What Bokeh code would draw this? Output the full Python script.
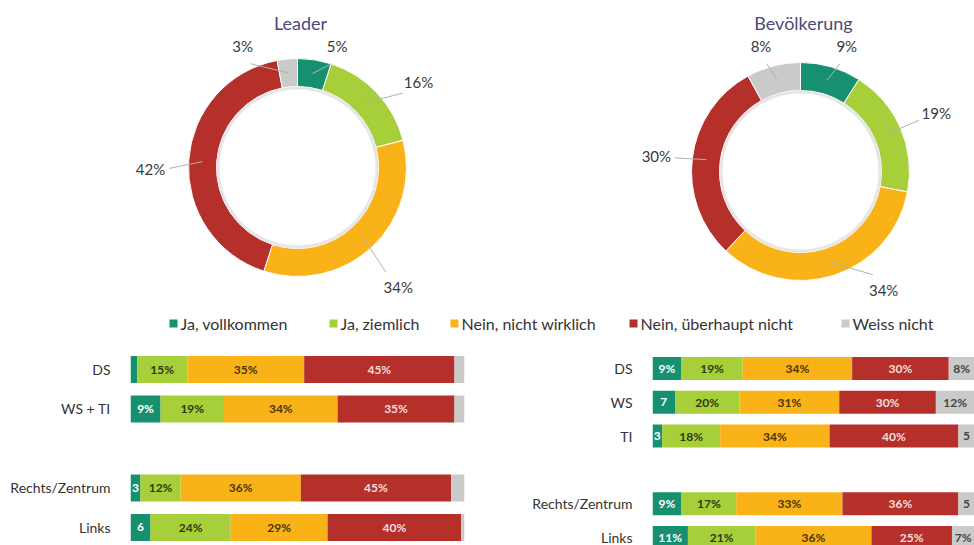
import math
from bokeh.plotting import figure
from bokeh.models import Range1d, FixedTicker, ColumnDataSource
from bokeh.layouts import column, row
from bokeh.embed import file_html
from bokeh.resources import INLINE
from bokeh.core.properties import value

# ---------------- data ----------------
categories = ["Ja, vollkommen", "Ja, ziemlich", "Nein, nicht wirklich",
              "Nein, überhaupt nicht", "Weiss nicht"]

leader_values = [5, 16, 34, 42, 3]
bev_values = [9, 19, 34, 30, 8]

left_rows = ["DS", "WS + TI", "", "Rechts/Zentrum", "Links"]
left_ja_voll = [2, 9, 0, 3, 6]
left_ja_ziem = [15, 19, 0, 12, 24]
left_nein_nicht = [35, 34, 0, 36, 29]
left_nein_ueber = [45, 35, 0, 45, 40]
left_weiss = [3, 3, 0, 4, 1]
left_labels = [["", "15%", "35%", "45%", ""],
               ["9%", "19%", "34%", "35%", ""],
               ["", "", "", "", ""],
               ["3", "12%", "36%", "45%", ""],
               ["6", "24%", "29%", "40%", ""]]

right_rows = ["DS", "WS", "TI", "", "Rechts/Zentrum", "Links"]
right_ja_voll = [9, 7, 3, 0, 9, 11]
right_ja_ziem = [19, 20, 18, 0, 17, 21]
right_nein_nicht = [34, 31, 34, 0, 33, 36]
right_nein_ueber = [30, 30, 40, 0, 36, 25]
right_weiss = [8, 12, 5, 0, 5, 7]
right_labels = [["9%", "19%", "34%", "30%", "8%"],
                ["7", "20%", "31%", "30%", "12%"],
                ["3", "18%", "34%", "40%", "5"],
                ["", "", "", "", ""],
                ["9%", "17%", "33%", "36%", "5"],
                ["11%", "21%", "36%", "25%", "7%"]]

# ---------------- style ----------------
colors = ["#17906f", "#a6cf3a", "#f9b218", "#b5302a", "#cacaca"]
text_colors = ["#ffffff", "#2f3a10", "#4a3608", "#f7dede", "#444444"]
FONT = "Lato"
R_OUT, R_IN = 109, 81
TOP_H = 340

# ---------------- top: donuts + legend ----------------
top = figure(width=974, height=TOP_H, x_range=Range1d(0, 974), y_range=Range1d(0, TOP_H),
             output_backend="svg", toolbar_location=None, min_border=0,
             x_axis_location=None, y_axis_location=None)
top.grid.visible = False
top.outline_line_color = None


def donut(cx, cy, vals, title, nudges, radii):
    total = float(sum(vals))
    cum = 0
    s, e, mids = [], [], []
    for v in vals:
        a0 = math.pi / 2 - 2 * math.pi * cum / total
        cum += v
        a1 = math.pi / 2 - 2 * math.pi * cum / total
        s.append(a0)
        e.append(a1)
        mids.append((a0 + a1) / 2)
    src = ColumnDataSource(dict(x=[cx] * len(vals), y=[cy] * len(vals), s=s, e=e, c=colors))
    top.annular_wedge(x="x", y="y", inner_radius=R_IN, outer_radius=R_OUT,
                      start_angle="s", end_angle="e", direction="clock",
                      fill_color="c", line_color="white", line_width=1, source=src)
    # subtle inner shadow
    top.annulus(x=cx, y=cy, inner_radius=R_IN - 3, outer_radius=R_IN,
                fill_color="#e6e6e6", line_color=None)
    lx, ly, tx, ty, txt = [], [], [], [], []
    for v, m, nd, r in zip(vals, mids, nudges, radii):
        la = m + math.radians(nd)
        x0 = cx + 95 * math.cos(m)
        y0 = cy + 95 * math.sin(m)
        x1 = cx + (r - 19) * math.cos(la)
        y1 = cy + (r - 19) * math.sin(la)
        lx.append([x0, x1])
        ly.append([y0, y1])
        tx.append(cx + r * math.cos(la))
        ty.append(cy + r * math.sin(la))
        txt.append(f"{v}%")
    top.multi_line(xs=lx, ys=ly, line_color="#b0b0b0", line_width=1)
    top.text(x=tx, y=ty, text=txt, text_align="center", text_baseline="middle",
             text_font=value(FONT), text_font_size="15px", text_color="#3a3a3a")
    top.text(x=[cx + 3], y=[TOP_H - 22], text=[title], text_align="center",
             text_baseline="middle", text_font=value(FONT), text_font_size="18px",
             text_color="#4a4a7c")


donut(297, TOP_H - 167, leader_values, "Leader", [-9, -8, -3, 4, 19], [128, 148, 156, 147, 133])
donut(800, TOP_H - 171, bev_values, "Bevölkerung", [-4, 0, 17, 1, 3], [134, 148, 145, 145, 132])

# legend
legend_text_x = [180, 340, 461, 640, 852]
legend_y = TOP_H - 323
top.scatter(x=[x - 7 for x in legend_text_x], y=[legend_y] * 5, marker="square", size=8,
            fill_color=colors, line_color=None)
top.text(x=legend_text_x, y=[legend_y] * 5, text=categories, text_align="left",
         text_baseline="middle", text_font=value(FONT), text_font_size="16px",
         text_color="#333333")


# ---------------- bottom: stacked bars ----------------
BOT_H = 545 - TOP_H


def bars(rows, series, labels, width, bl, br, x_end, y_bottom, y_top, bar_h):
    p = figure(width=width, height=BOT_H, x_range=Range1d(0, x_end),
               y_range=Range1d(y_bottom, y_top), output_backend="svg",
               toolbar_location=None, min_border_left=bl, min_border_right=br,
               min_border_top=0, min_border_bottom=0, x_axis_location=None)
    p.grid.visible = False
    p.outline_line_color = None
    data = dict(y=list(range(len(rows))))
    for cat, vals in zip(categories, series):
        data[cat] = vals
    p.hbar_stack(categories, y="y", height=bar_h, color=colors, line_color=None,
                 source=ColumnDataSource(data))
    tx, ty, tt, tc = [], [], [], []
    for i in range(len(rows)):
        cum = 0
        for j, vals in enumerate(series):
            v = vals[i]
            if labels[i][j]:
                tx.append(cum + v / 2)
                ty.append(i)
                tt.append(labels[i][j])
                tc.append(text_colors[j])
            cum += v
    p.text(x=tx, y=ty, text=tt, text_color=tc, text_align="center",
           text_baseline="middle", text_font=value(FONT), text_font_size="12px",
           text_font_style="bold")
    ax = p.yaxis[0]
    ax.ticker = FixedTicker(ticks=[i for i, r in enumerate(rows) if r])
    ax.major_label_overrides = {i: r for i, r in enumerate(rows) if r}
    ax.axis_line_color = None
    ax.major_tick_line_color = None
    ax.minor_tick_line_color = None
    ax.major_label_standoff = 14
    ax.major_label_text_font = FONT
    ax.major_label_text_font_size = "14px"
    ax.major_label_text_color = "#333333"
    return p


left = bars(left_rows,
            [left_ja_voll, left_ja_ziem, left_nein_nicht, left_nein_ueber, left_weiss],
            left_labels, 480, 130, 16, 100, 4.456, -0.734, 0.68)
right = bars(right_rows,
             [right_ja_voll, right_ja_ziem, right_nein_nicht, right_nein_ueber, right_weiss],
             right_labels, 494, 172, 0, 100, 5.237, -0.828, 0.68)

layout = column(top, row(left, right))
open("out.html", "w").write(file_html(layout, INLINE))
